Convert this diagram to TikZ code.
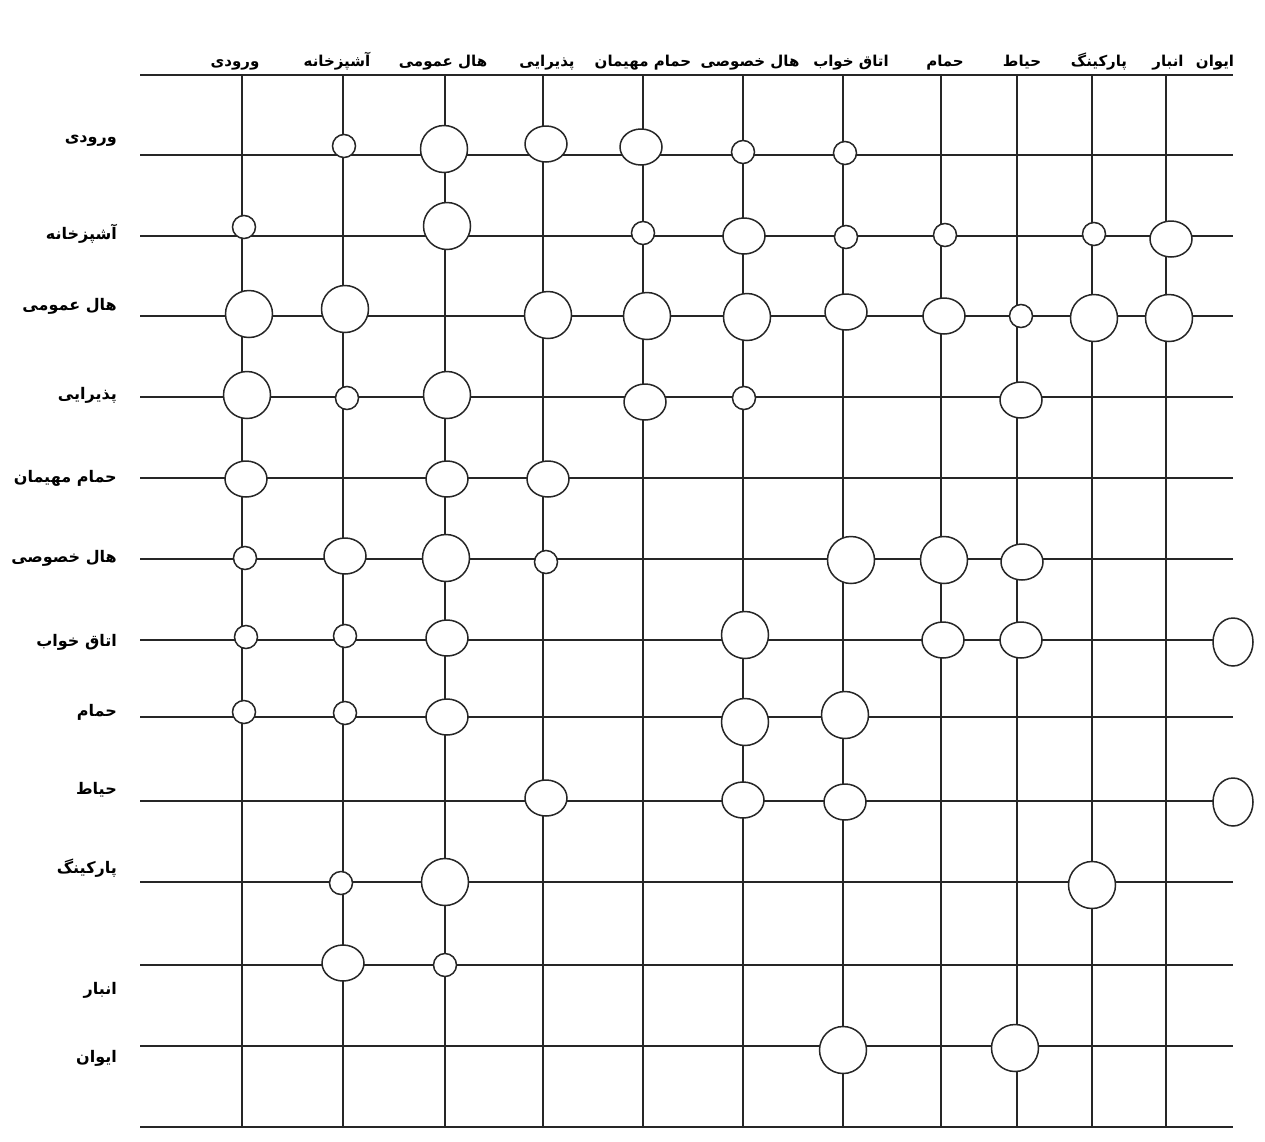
\documentclass[tikz,border=0pt]{standalone}
\usepackage{fontspec}
\usetikzlibrary{shapes.geometric,backgrounds}
\TeXXeTstate=1
\newfontfamily\arabicfont[Script=Arabic]{DejaVu Sans}
\begin{document}
\begin{tikzpicture}[x=1pt,y=-1pt,
  gline/.style={line width=1.3pt, draw=black!85},
  conn/.style={draw=black!85, line width=1.5pt, fill=white, inner sep=0pt},
  sm/.style={conn, circle, minimum size=23pt},
  md/.style={conn, ellipse, minimum width=42pt, minimum height=36pt},
  lg/.style={conn, circle, minimum size=47pt},
  tl/.style={conn, ellipse, minimum width=40pt, minimum height=48pt},
  collab/.style={font=\arabicfont\bfseries\fontsize{15}{17}\selectfont, inner sep=0pt, anchor=base},
  rowlab/.style={font=\arabicfont\bfseries\fontsize{16}{18}\selectfont, anchor=east, inner sep=0pt}]
\useasboundingbox (0,0) rectangle (1265,1141);

% column and row end points
\foreach \n/\x in {1/242,2/343,3/445,4/543,5/643,6/743,7/843,8/941,9/1017,10/1092,11/1166}{
  \coordinate (ct\n) at (\x,75);
  \coordinate (cb\n) at (\x,1127);
}
\foreach \n/\y in {0/75,1/155,2/236,3/316,4/397,5/478,6/559,7/640,8/717,9/801,10/882,11/965,12/1046,13/1127}{
  \coordinate (rl\n) at (140,\y);
  \coordinate (rr\n) at (1233,\y);
}

% column labels
\node[collab] (h1) at (235,66) {\beginR ورودی\endR};
\node[collab] (h2) at (337,66) {\beginR آشپزخانه\endR};
\node[collab] (h3) at (443,66) {\beginR هال عمومی\endR};
\node[collab] (h4) at (547,66) {\beginR پذیرایی\endR};
\node[collab] (h5) at (643,66) {\beginR حمام مهیمان\endR};
\node[collab] (h6) at (750,66) {\beginR هال خصوصی\endR};
\node[collab] (h7) at (851,66) {\beginR اتاق خواب\endR};
\node[collab] (h8) at (945,66) {\beginR حمام\endR};
\node[collab] (h9) at (1022,66) {\beginR حیاط\endR};
\node[collab] (h10) at (1099,66) {\beginR پارکینگ\endR};
\node[collab] (h11) at (1168,66) {\beginR انبار\endR};
\node[collab] (h12) at (1215,66) {\beginR ایوان\endR};

% row labels
\node[rowlab] (l1) at (117,141) {\beginR ورودی\endR};
\node[rowlab] (l2) at (117,234) {\beginR آشپزخانه\endR};
\node[rowlab] (l3) at (117,306) {\beginR هال عمومی\endR};
\node[rowlab] (l4) at (117,395) {\beginR پذیرایی\endR};
\node[rowlab] (l5) at (117,478) {\beginR حمام مهیمان\endR};
\node[rowlab] (l6) at (117,558) {\beginR هال خصوصی\endR};
\node[rowlab] (l7) at (117,642) {\beginR اتاق خواب\endR};
\node[rowlab] (l8) at (117,712) {\beginR حمام\endR};
\node[rowlab] (l9) at (117,790) {\beginR حیاط\endR};
\node[rowlab] (l10) at (117,868) {\beginR پارکینگ\endR};
\node[rowlab] (l11) at (117,990) {\beginR انبار\endR};
\node[rowlab] (l12) at (117,1058) {\beginR ایوان\endR};

% relation circles
% row 1
\node[sm] (a1-2) at (344,146) {};
\node[lg] (a1-3) at (444,149) {};
\node[md] (a1-4) at (546,144) {};
\node[md] (a1-5) at (641,147) {};
\node[sm] (a1-6) at (743,152) {};
\node[sm] (a1-7) at (845,153) {};
% row 2
\node[sm] (a2-1) at (244,227) {};
\node[lg] (a2-3) at (447,226) {};
\node[sm] (a2-5) at (643,233) {};
\node[md] (a2-6) at (744,236) {};
\node[sm] (a2-7) at (846,237) {};
\node[sm] (a2-8) at (945,235) {};
\node[sm] (a2-10) at (1094,234) {};
\node[md] (a2-11) at (1171,239) {};
% row 3
\node[lg] (a3-1) at (249,314) {};
\node[lg] (a3-2) at (345,309) {};
\node[lg] (a3-4) at (548,315) {};
\node[lg] (a3-5) at (647,316) {};
\node[lg] (a3-6) at (747,317) {};
\node[md] (a3-7) at (846,312) {};
\node[md] (a3-8) at (944,316) {};
\node[sm] (a3-9) at (1021,316) {};
\node[lg] (a3-10) at (1094,318) {};
\node[lg] (a3-11) at (1169,318) {};
% row 4
\node[lg] (a4-1) at (247,395) {};
\node[sm] (a4-2) at (347,398) {};
\node[lg] (a4-3) at (447,395) {};
\node[md] (a4-5) at (645,402) {};
\node[sm] (a4-6) at (744,398) {};
\node[md] (a4-9) at (1021,400) {};
% row 5
\node[md] (a5-1) at (246,479) {};
\node[md] (a5-3) at (447,479) {};
\node[md] (a5-4) at (548,479) {};
% row 6
\node[sm] (a6-1) at (245,558) {};
\node[md] (a6-2) at (345,556) {};
\node[lg] (a6-3) at (446,558) {};
\node[sm] (a6-4) at (546,562) {};
\node[lg] (a6-7) at (851,560) {};
\node[lg] (a6-8) at (944,560) {};
\node[md] (a6-9) at (1022,562) {};
% row 7
\node[sm] (a7-1) at (246,637) {};
\node[sm] (a7-2) at (345,636) {};
\node[md] (a7-3) at (447,638) {};
\node[lg] (a7-6) at (745,635) {};
\node[md] (a7-8) at (943,640) {};
\node[md] (a7-9) at (1021,640) {};
\node[tl] (a7-12) at (1233,642) {};
% row 8
\node[sm] (a8-1) at (244,712) {};
\node[sm] (a8-2) at (345,713) {};
\node[md] (a8-3) at (447,717) {};
\node[lg] (a8-6) at (745,722) {};
\node[lg] (a8-7) at (845,715) {};
% row 9
\node[md] (a9-4) at (546,798) {};
\node[md] (a9-6) at (743,800) {};
\node[md] (a9-7) at (845,802) {};
\node[tl] (a9-12) at (1233,802) {};
% row 10
\node[sm] (a10-2) at (341,883) {};
\node[lg] (a10-3) at (445,882) {};
\node[lg] (a10-10) at (1092,885) {};
% row 11
\node[md] (a11-2) at (343,963) {};
\node[sm] (a11-3) at (445,965) {};
% row 12
\node[lg] (a12-7) at (843,1050) {};
\node[lg] (a12-9) at (1015,1048) {};

% grid lines behind the circles
\begin{scope}[on background layer]
  \fill[white] (0,0) rectangle (1265,1141);
  \foreach \n in {1,...,11}{\draw[gline] (ct\n) -- (cb\n);}
  \foreach \n in {0,1,2,3,4,5,6,8,10,11,12,13}{\draw[gline] (rl\n) -- (rr\n);}
  \draw[gline] (rl7) -- (rl7 -| a7-12.center);
  \draw[gline] (rl9) -- (rl9 -| a9-12.center);
\end{scope}
\end{tikzpicture}
\end{document}
